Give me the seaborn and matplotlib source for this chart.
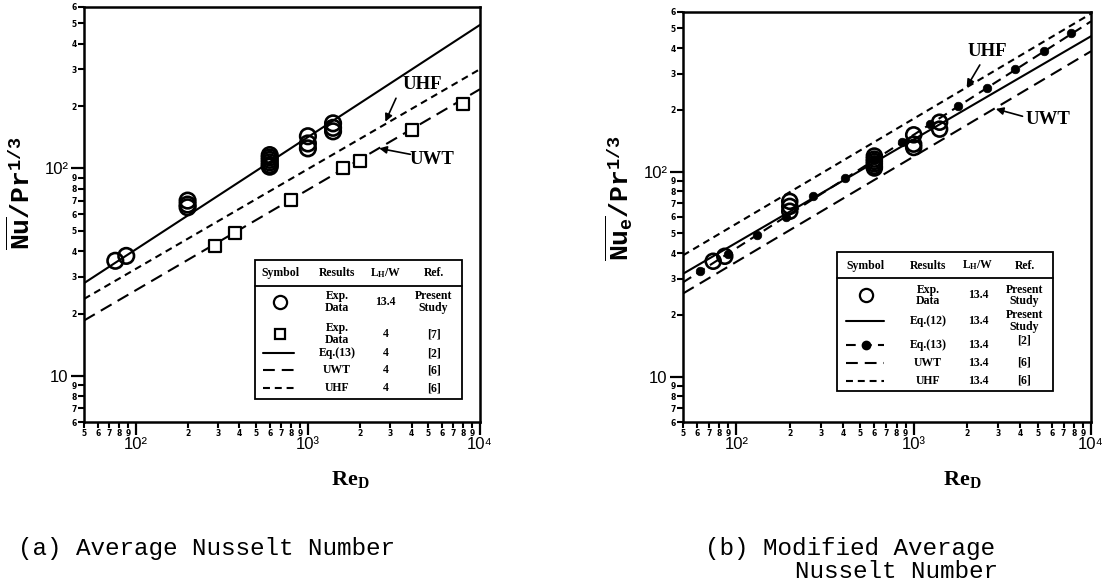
import matplotlib
matplotlib.use("Agg")
import matplotlib.pyplot as plt
import seaborn as sns
from matplotlib.patches import Rectangle
from matplotlib.ticker import FixedLocator, FixedFormatter

# ---------------- data: panel (a) average Nusselt number ----------------
a_exp_re = [76, 88, 200, 200, 200, 600, 600, 600, 600, 600, 600, 1000, 1000, 1000, 1400, 1400, 1400]
a_exp_nu = [35.9, 37.9, 70, 67, 65, 116, 113, 110, 107, 104, 102, 143, 132, 125, 165, 157, 151]
a_ref7_re = [290, 375, 795, 1600, 2000, 4000, 8000]
a_ref7_nu = [42.1, 48.9, 70.3, 100.7, 108.9, 152.7, 205.5]
line_re = [50, 10000]
a_eq13 = [28.0, 492]
a_uwt = [18.5, 241]
a_uhf = [23.5, 301]

# ---------------- data: panel (b) modified average Nusselt number ----------------
b_exp_re = [74, 86, 200, 200, 200, 600, 600, 600, 600, 600, 600, 1000, 1000, 1000, 1400, 1400]
b_exp_nu = [36.5, 38.6, 71.5, 67.6, 64, 119, 115, 112, 109, 106, 104, 151, 136, 131, 174, 161]
b_eq13_re = [62, 90, 130, 190, 272, 412, 597, 864, 1233, 1787, 2590, 3750, 5420, 7750]
b_eq13_nu = [32.6, 39.7, 48.9, 60, 75.9, 93.5, 114, 138.8, 169.9, 208.6, 256, 315.6, 387.6, 474.6]
b_eq12 = [31.7, 457]
b_eq13_line = [28.8, 540]
b_uwt = [25.4, 386]
b_uhf = [39, 589]

# ---------------- tick labels ----------------
x_major = [100, 1000, 10000]
x_major_labels = ["10\u00b2", "10\u00b3", "10\u2074"]
x_minor = [50, 60, 70, 80, 90, 200, 300, 400, 500, 600, 700, 800, 900,
           2000, 3000, 4000, 5000, 6000, 7000, 8000, 9000]
x_minor_labels = ["5", "6", "7", "8", "9", "2", "3", "4", "5", "6", "7", "8", "9",
                  "2", "3", "4", "5", "6", "7", "8", "9"]
y_major = [10, 100]
y_major_labels = ["10", "10\u00b2"]
y_minor = [6, 7, 8, 9, 20, 30, 40, 50, 60, 70, 80, 90, 200, 300, 400, 500, 600]
y_minor_labels = ["6", "7", "8", "9", "2", "3", "4", "5", "6", "7", "8", "9",
                  "2", "3", "4", "5", "6"]

sns.set_theme(style="ticks")
plt.rcParams["font.family"] = ["Liberation Serif", "DejaVu Serif"]
plt.rcParams["mathtext.fontset"] = "custom"
plt.rcParams["mathtext.rm"] = "Liberation Serif"
plt.rcParams["mathtext.bf"] = "Liberation Serif:bold"
plt.rcParams["mathtext.it"] = "Liberation Serif:italic"
plt.rcParams["mathtext.tt"] = "Liberation Mono:bold"
plt.rcParams["axes.linewidth"] = 1.8
plt.rcParams["lines.scale_dashes"] = False

LW_SOLID = "-"
LONG_DASH = (0, (9, 5))
SHORT_DASH = (0, (5, 3.5))
EQ13_DASH = (0, (7, 4.5))
KEY_LONG_DASH = (0, (8.5, 5))

fig = plt.figure(figsize=(11.17, 5.88), dpi=100)
ax_a = fig.add_axes([84 / 1117, 1 - 422 / 588, 396 / 1117, 415 / 588])
ax_b = fig.add_axes([683 / 1117, 1 - 422 / 588, 408 / 1117, 410 / 588])


def style_axis(ax):
    ax.set_xscale("log")
    ax.set_yscale("log")
    ax.set_xlim(50, 10000)
    ax.set_ylim(6, 600)
    ax.xaxis.set_major_locator(FixedLocator(x_major))
    ax.xaxis.set_major_formatter(FixedFormatter(x_major_labels))
    ax.xaxis.set_minor_locator(FixedLocator(x_minor))
    ax.xaxis.set_minor_formatter(FixedFormatter(x_minor_labels))
    ax.yaxis.set_major_locator(FixedLocator(y_major))
    ax.yaxis.set_major_formatter(FixedFormatter(y_major_labels))
    ax.yaxis.set_minor_locator(FixedLocator(y_minor))
    ax.yaxis.set_minor_formatter(FixedFormatter(y_minor_labels))
    ax.tick_params(which="major", direction="out", length=9.5, width=1.6,
                   top=False, right=False, labelsize=12, pad=1.5, colors="black")
    ax.tick_params(which="minor", direction="out", length=4, width=1.5,
                   top=False, right=False, labelsize=5.5, pad=1, colors="black")
    for t in ax.xaxis.get_major_ticks() + ax.yaxis.get_major_ticks():
        t.label1.set_family(["Liberation Sans", "DejaVu Sans"])
    for t in ax.xaxis.get_minor_ticks() + ax.yaxis.get_minor_ticks():
        t.label1.set_family(["DejaVu Sans"])
        t.label1.set_fontweight("bold")
    for s in ax.spines.values():
        s.set_visible(True)
        s.set_linewidth(1.8)
        s.set_color("black")
    ax.set_xlabel("")
    ax.set_ylabel("")
    ax.set_facecolor("white")


for ax in (ax_a, ax_b):
    ax.set_xscale("log")
    ax.set_yscale("log")

# ---------------- panel (a) ----------------
sns.lineplot(x=line_re, y=a_eq13, ax=ax_a, color="black", lw=1.5, linestyle=LW_SOLID)
sns.lineplot(x=line_re, y=a_uhf, ax=ax_a, color="black", lw=1.5, linestyle=SHORT_DASH)
sns.lineplot(x=line_re, y=a_uwt, ax=ax_a, color="black", lw=1.5, linestyle=LONG_DASH)
sns.scatterplot(x=a_exp_re, y=a_exp_nu, ax=ax_a, marker="o", s=125,
                facecolor="none", edgecolor="black", linewidth=1.9, zorder=3)
sns.scatterplot(x=a_ref7_re, y=a_ref7_nu, ax=ax_a, marker="s", s=80,
                facecolor="white", edgecolor="black", linewidth=1.6, zorder=3)
style_axis(ax_a)

# ---------------- panel (b) ----------------
sns.lineplot(x=line_re, y=b_uhf, ax=ax_b, color="black", lw=1.5, linestyle=SHORT_DASH)
sns.lineplot(x=line_re, y=b_eq12, ax=ax_b, color="black", lw=1.5, linestyle=LW_SOLID)
sns.lineplot(x=line_re, y=b_eq13_line, ax=ax_b, color="black", lw=1.5, linestyle=EQ13_DASH)
sns.lineplot(x=line_re, y=b_uwt, ax=ax_b, color="black", lw=1.5, linestyle=LONG_DASH)
sns.scatterplot(x=b_eq13_re, y=b_eq13_nu, ax=ax_b, marker="o", s=38,
                color="black", edgecolor="black", linewidth=0.5, zorder=3)
sns.scatterplot(x=b_exp_re, y=b_exp_nu, ax=ax_b, marker="o", s=115,
                facecolor="none", edgecolor="black", linewidth=1.9, zorder=4)
style_axis(ax_b)

# ---------------- line annotations ----------------
arrow = dict(arrowstyle="-|>", color="black", lw=1.2, mutation_scale=11, shrinkA=0, shrinkB=0)
ann_font = dict(fontsize=13.5, color="black", ha="center", va="center",
                family=["Liberation Serif", "DejaVu Serif"], fontweight="bold")

ax_a.annotate("", xy=(2818, 168), xytext=(3250, 218), arrowprops=arrow)
ax_a.text(4650, 255, "UHF", **ann_font)
ax_a.annotate("", xy=(2596, 125), xytext=(3936, 117), arrowprops=arrow)
ax_a.text(5250, 111, "UWT", **ann_font)

ax_b.annotate("", xy=(1990, 258), xytext=(2360, 331), arrowprops=arrow)
ax_b.text(2590, 384, "UHF", **ann_font)
ax_b.annotate("", xy=(2905, 202), xytext=(4110, 186), arrowprops=arrow)
ax_b.text(5690, 180, "UWT", **ann_font)

# ---------------- symbol tables ----------------
tfont = dict(fontsize=8.5, fontweight="bold", color="black", ha="center", va="center",
             family=["Liberation Serif", "DejaVu Serif"], linespacing=0.95)


def draw_table(ax, box, header_y, hline_y, cols, sym_span, rows):
    x0, x1, y0, y1 = box
    ax.add_patch(Rectangle((x0, y0), x1 - x0, y1 - y0, transform=ax.transAxes,
                           fill=True, facecolor="white", edgecolor="black",
                           lw=1.3, zorder=5, clip_on=False))
    ax.plot([x0, x1], [hline_y, hline_y], transform=ax.transAxes,
            color="black", lw=1.3, zorder=6, clip_on=False)
    for cx, h in zip(cols, ["Symbol", "Results", r"L$_{\mathbf{H}}$/W", "Ref."]):
        ax.text(cx, header_y, h, transform=ax.transAxes, zorder=7, **tfont)
    for (sym, ry, res, lw_txt, ref, ref_dy) in rows:
        sx = cols[0]
        if sym == "circle":
            ax.plot([sx], [ry], transform=ax.transAxes, marker="o", ms=9.5,
                    mfc="none", mec="black", mew=1.6, zorder=7, clip_on=False)
        elif sym == "square":
            ax.plot([sx], [ry], transform=ax.transAxes, marker="s", ms=7.5,
                    mfc="none", mec="black", mew=1.6, zorder=7, clip_on=False)
        else:
            style, dotted = sym
            ax.plot(sym_span, [ry, ry], transform=ax.transAxes, color="black",
                    lw=1.5, linestyle=style, zorder=7, clip_on=False)
            if dotted:
                ax.plot([sx], [ry], transform=ax.transAxes, marker="o", ms=6,
                        color="black", zorder=8, clip_on=False)
        ax.text(cols[1], ry, res, transform=ax.transAxes, zorder=7, **tfont)
        ax.text(cols[2], ry, lw_txt, transform=ax.transAxes, zorder=7, **tfont)
        ax.text(cols[3], ry + ref_dy, ref, transform=ax.transAxes, zorder=7, **tfont)


draw_table(ax_a, (0.431, 0.955, 0.055, 0.391), 0.3595, 0.328,
           [0.495, 0.639, 0.761, 0.883], [0.452, 0.530],
           [("circle", 0.289, "Exp.\nData", "13.4", "Present\nStudy", 0.0),
            ("square", 0.2114, "Exp.\nData", "4", "[7]", 0.0),
            ((LW_SOLID, False), 0.166, "Eq.(13)", "4", "[2]", 0.0),
            ((KEY_LONG_DASH, False), 0.125, "UWT", "4", "[6]", 0.0),
            ((SHORT_DASH, False), 0.0815, "UHF", "4", "[6]", 0.0)])

draw_table(ax_b, (0.378, 0.906, 0.0744, 0.4156), 0.3817, 0.351,
           [0.448, 0.601, 0.723, 0.837], [0.400, 0.493],
           [("circle", 0.309, "Exp.\nData", "13.4", "Present\nStudy", 0.0),
            ((LW_SOLID, False), 0.246, "Eq.(12)", "13.4", "Present\nStudy", 0.0),
            ((EQ13_DASH, True), 0.1876, "Eq.(13)", "13.4", "[2]", 0.012),
            ((KEY_LONG_DASH, False), 0.1449, "UWT", "13.4", "[6]", 0.0),
            ((SHORT_DASH, False), 0.101, "UHF", "13.4", "[6]", 0.0)])

# ---------------- axis titles and captions ----------------
ylab_font = dict(fontsize=19, color="black", ha="center", va="center")
fig.text(21 / 1117, 1 - 193 / 588,
         r"$\overline{\mathtt{Nu}}\mathtt{/Pr}^{\mathtt{1/3}}$",
         rotation=90, **ylab_font)
fig.text(619 / 1117, 1 - 198 / 588,
         r"$\overline{\mathtt{Nu}_{\mathtt{e}}}\mathtt{/Pr}^{\mathtt{1/3}}$",
         rotation=90, **ylab_font)
xlab_font = dict(fontsize=16, color="black", ha="center", va="center")
fig.text(350 / 1117, 1 - 480 / 588, r"$\mathbf{Re}_{\mathbf{D}}$", **xlab_font)
fig.text(962 / 1117, 1 - 480 / 588, r"$\mathbf{Re}_{\mathbf{D}}$", **xlab_font)

cap_font = dict(fontsize=17.5, color="black", va="center", ha="left",
                family=["Liberation Mono", "DejaVu Sans Mono"])
fig.text(18 / 1117, 1 - 548 / 588, "(a) Average Nusselt Number", **cap_font)
fig.text(705 / 1117, 1 - 548 / 588, "(b) Modified Average", **cap_font)
fig.text(795 / 1117, 1 - 571 / 588, "Nusselt Number", **cap_font)

fig.savefig("out.png", dpi=100, facecolor="white")
